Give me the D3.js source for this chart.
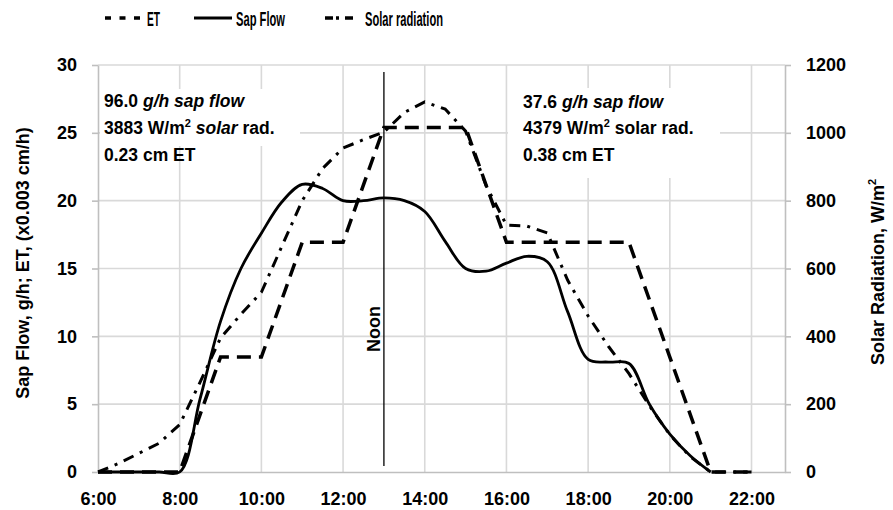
<!DOCTYPE html>
<html><head><meta charset="utf-8">
<script src="https://cdn.jsdelivr.net/npm/d3@7/dist/d3.min.js"></script>
<style>
html,body{margin:0;padding:0;background:#fff;}
svg{display:block;font-family:"Liberation Sans",Arial,Helvetica,sans-serif;}
</style></head><body>
<svg id="chart" width="893" height="510"></svg>
<script>
// ---------- DATA ----------
const hours = [6,7,8,9,10,11,12,13,14,15,16,17,18,19,20,21,22];
const etValues = [0,0,0,8.47,8.47,16.93,16.93,25.4,25.4,25.4,16.93,16.93,16.93,16.93,8.47,0,0];

const halfHours = [6,6.5,7,7.5,8,8.5,9,9.5,10,10.5,11,11.5,12,12.5,13,13.5,14,14.5,15,15.5,16,16.5,17,17.5,18,18.5,19,19.5,20,20.5,21,21.5,22];
const sapFlowValues = [0,0,0,0,0,5.4,11.1,15.0,17.6,19.9,21.2,20.9,20.0,20.0,20.2,20.0,19.2,17.0,15.0,14.8,15.4,15.9,15.5,11.8,8.3,8.1,8.0,5.0,2.8,1.2,0,null,null];
const solarValues = [0,25,55,85,140,265,395,465,530,665,800,895,955,980,1002,1060,1091,1070,1005,845,728,725,705,565,460,370,290,195,110,45,0,0,0];

const xTickValues = [6,8,10,12,14,16,18,20,22];
const xTickLabels = ["6:00","8:00","10:00","12:00","14:00","16:00","18:00","20:00","22:00"];
const leftTicks = [0,5,10,15,20,25,30];
const rightTicks = [0,200,400,600,800,1000,1200];
const noonHour = 13;

const seriesNames = ["ET","Sap Flow","Solar radiation"];
const leftTitle = "Sap Flow, g/h; ET, (x0.003 cm/h)";
const rightTitle = "Solar Radiation, W/m";

// ---------- SCALES ----------
const svg = d3.select("#chart");
const x = d3.scaleLinear().domain([6, 22.82]).range([98, 785]);
const yL = d3.scaleLinear().domain([0, 30]).range([472, 65]);
const yR = d3.scaleLinear().domain([0, 1200]).range([472, 65]);

const gridColor = "#d9d9d9";
const axisColor = "#bfbfbf";

// gridlines
svg.append("g").selectAll("line").data(leftTicks.filter(d => d > 0)).join("line")
  .attr("x1", x(6)).attr("x2", x.range()[1])
  .attr("y1", d => yL(d)).attr("y2", d => yL(d))
  .attr("stroke", gridColor).attr("stroke-width", 1.6);
svg.append("g").selectAll("line").data(xTickValues.filter(d => d > 6)).join("line")
  .attr("x1", d => x(d)).attr("x2", d => x(d))
  .attr("y1", yL(30)).attr("y2", yL(0))
  .attr("stroke", gridColor).attr("stroke-width", 1.6);

// white boxes behind annotations
svg.append("rect").attr("x", 100).attr("y", 89).attr("width", 200).attr("height", 57).attr("fill", "#fff");
svg.append("rect").attr("x", 508).attr("y", 88).attr("width", 212).attr("height", 90).attr("fill", "#fff");

// axes
function styleAxis(g) {
  g.select(".domain").attr("stroke", axisColor).attr("stroke-width", 1.6);
  g.selectAll(".tick line").attr("stroke", axisColor).attr("stroke-width", 1.6);
  g.selectAll(".tick text").attr("fill", "#000").attr("font-size", 18).attr("font-weight", "bold")
    .attr("font-family", '"Liberation Sans",Arial,sans-serif');
}
svg.append("g").attr("transform", "translate(98,0)")
  .call(d3.axisLeft(yL).tickValues(leftTicks).tickFormat(d3.format("d")).tickSizeInner(6).tickSizeOuter(0).tickPadding(15))
  .call(styleAxis);
svg.append("g").attr("transform", "translate(785,0)")
  .call(d3.axisRight(yR).tickValues(rightTicks).tickFormat(d3.format("d")).tickSizeInner(6).tickSizeOuter(0).tickPadding(15))
  .call(styleAxis);
svg.append("g").attr("transform", "translate(0,472)")
  .call(d3.axisBottom(x).tickValues(xTickValues).tickFormat((d, i) => xTickLabels[i]).tickSizeInner(0).tickSizeOuter(0).tickPadding(20))
  .call(styleAxis);

// series
const etData = hours.map((h, i) => ({h, v: etValues[i]}));
const sapData = halfHours.map((h, i) => ({h, v: sapFlowValues[i]}));
const solarData = halfHours.map((h, i) => ({h, v: solarValues[i]}));

svg.append("path").datum(solarData)
  .attr("d", d3.line().x(d => x(d.h)).y(d => yR(d.v)))
  .attr("fill", "none").attr("stroke", "#000").attr("stroke-width", 3)
  .attr("stroke-dasharray", "11,7,3,7");

svg.append("path").datum(etData)
  .attr("d", d3.line().x(d => x(d.h)).y(d => yL(d.v)))
  .attr("fill", "none").attr("stroke", "#000").attr("stroke-width", 3.5)
  .attr("stroke-dasharray", "14,8");

svg.append("path").datum(sapData)
  .attr("d", d3.line().defined(d => d.v !== null).curve(d3.curveCatmullRom.alpha(0.5)).x(d => x(d.h)).y(d => yL(d.v)))
  .attr("fill", "none").attr("stroke", "#000").attr("stroke-width", 2.8);

// noon line
svg.append("line").attr("x1", x(noonHour)).attr("x2", x(noonHour)).attr("y1", 72).attr("y2", 466)
  .attr("stroke", "#000").attr("stroke-width", 1.3);
svg.append("text").attr("transform", `translate(${x(noonHour) - 4},329) rotate(-90)`)
  .attr("text-anchor", "middle").attr("font-size", 18).attr("font-weight", "bold").text("Noon");

// axis titles
svg.append("text").attr("transform", "translate(29,263) rotate(-90)")
  .attr("text-anchor", "middle").attr("font-size", 18).attr("font-weight", "bold").text(leftTitle);
const rt = svg.append("text").attr("transform", "translate(884,272) rotate(-90)")
  .attr("text-anchor", "middle").attr("font-size", 18).attr("font-weight", "bold");
rt.append("tspan").text(rightTitle);
rt.append("tspan").attr("font-size", 11).attr("dy", -8).text("2");

// annotations
function annot(xp, yp, parts) {
  const t = svg.append("text").attr("x", xp).attr("y", yp).attr("font-size", 17.5).attr("font-weight", "bold");
  parts.forEach(p => {
    const s = t.append("tspan").text(p.t);
    if (p.i) s.attr("font-style", "italic");
    if (p.sup) s.attr("font-size", 11).attr("dy", -7);
    if (p.down) s.attr("dy", 7);
  });
}
annot(104, 107, [{t: "96.0 "}, {t: "g/h sap flow", i: true}]);
annot(104, 134, [{t: "3883 W/m"}, {t: "2", sup: true}, {t: " ", down: true}, {t: "solar", i: true}, {t: " rad."}]);
annot(104, 161, [{t: "0.23 cm ET"}]);
annot(523, 108, [{t: "37.6 "}, {t: "g/h sap flow", i: true}]);
annot(523, 134, [{t: "4379 W/m"}, {t: "2", sup: true}, {t: " solar rad.", down: true}]);
annot(523, 161, [{t: "0.38 cm ET"}]);

// legend
const lg = svg.append("g");
lg.append("line").attr("x1", 105).attr("x2", 140).attr("y1", 18).attr("y2", 18)
  .attr("stroke", "#000").attr("stroke-width", 3.5).attr("stroke-dasharray", "6,8.5");
lg.append("line").attr("x1", 194).attr("x2", 232).attr("y1", 18).attr("y2", 18)
  .attr("stroke", "#000").attr("stroke-width", 3);
lg.append("line").attr("x1", 325).attr("x2", 353).attr("y1", 18).attr("y2", 18)
  .attr("stroke", "#000").attr("stroke-width", 3.5).attr("stroke-dasharray", "8,3,3,6");
const legendX = [147, 236, 365];
const legendW = [13, 49, 78];
seriesNames.forEach((n, i) => {
  lg.append("text").attr("x", legendX[i]).attr("y", 26).attr("font-size", 21).attr("font-weight", "bold")
    .attr("textLength", legendW[i]).attr("lengthAdjust", "spacingAndGlyphs").text(n);
});
</script>
</body></html>
